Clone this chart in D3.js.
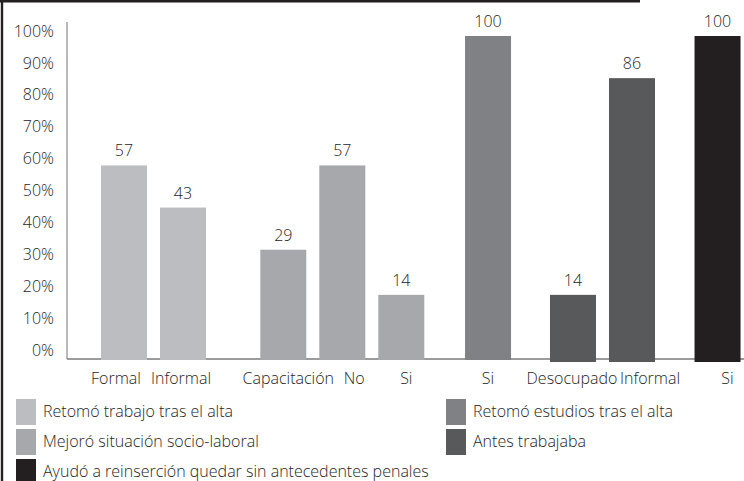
<!DOCTYPE html>
<html>
<head>
<meta charset="utf-8">
<script src="https://cdn.jsdelivr.net/npm/d3@7"></script>
<style>
	body { margin: 0; background: #fff; }
	svg { display: block; font-family: "Open Sans", sans-serif; font-weight: 300; }
	text { fill: #262626; }
</style>
</head>
<body>
<svg width="744" height="481"></svg>
<script>
// data
var categories = ["Formal", "Informal", "Capacitación", "No", "Si", "Si", "Desocupado", "Informal", "Si"];
var values = [57, 43, 29, 57, 14, 100, 14, 86, 100];
var barSeries = [0, 0, 1, 1, 1, 2, 3, 3, 4];
var groupOf = [0, 0, 1, 1, 1, 2, 3, 3, 4];
var seriesNames = [
	"Retomó trabajo tras el alta",
	"Mejoró situación socio-laboral",
	"Retomó estudios tras el alta",
	"Antes trabajaba",
	"Ayudó a reinserción quedar sin antecedentes penales"
];
var yTicks = [0, 10, 20, 30, 40, 50, 60, 70, 80, 90, 100];

// styles / layout
var seriesColors = ["#bcbdc0", "#a7a8ab", "#808184", "#58595b", "#231f20"];
var groupGaps = [0, 0.7, 0.47, 0.44, 0.45];   // extra space before each group, in bar steps
var labelNudge = [-8, -2, 5, 12, 5, 0, -1, 18, 10];
var legendSlots = [[0, 0], [0, 1], [1, 0], [1, 1], [0, 2]]; // [col, row]
var baseline = 359;
var fontSize = "16px";

var svg = d3.select("svg");

// frame lines
svg.append("line").attr("x1", 0).attr("x2", 640).attr("y1", 1.2).attr("y2", 1.2)
	.attr("stroke", "#231f20").attr("stroke-width", 2.6);
svg.append("line").attr("x1", 2).attr("x2", 2).attr("y1", 0).attr("y2", 481)
	.attr("stroke", "#231f20").attr("stroke-width", 2.4);

// slot position of each bar
var slots = [];
var pos = 0, gapSum = 0;
categories.forEach(function (c, i) {
	if (i > 0) {
		pos += 1;
		if (groupOf[i] != groupOf[i - 1]) gapSum += groupGaps[groupOf[i]];
	}
	slots.push(pos + gapSum);
});

var x = d3.scaleLinear().domain([0, 1]).range([101, 160]);
var barW = 46;
var yBar = d3.scaleLinear().domain([0, 100]).range([337, 36]);
var yLab = d3.scaleLinear().domain([0, 100]).range([350, 31]);

// y labels
var yAxis = svg.append("g")
	.attr("transform", "translate(54,0)")
	.call(d3.axisLeft(yLab).tickValues(yTicks).tickSize(0).tickPadding(0)
		.tickFormat(function (d) { return d + "%"; }));
yAxis.select(".domain").remove();
yAxis.selectAll("text").attr("fill", "#262626").style("font-size", fontSize)
	.attr("font-family", "Open Sans").attr("font-weight", 300);

// axis lines
svg.append("line").attr("x1", 67).attr("x2", 67).attr("y1", 22).attr("y2", baseline)
	.attr("stroke", "#8a8a8a").attr("stroke-width", 1.2);
svg.append("line").attr("x1", 67).attr("x2", 744).attr("y1", baseline).attr("y2", baseline)
	.attr("stroke", "#7a7a7a").attr("stroke-width", 1.5);

var bars = categories.map(function (c, i) {
	return { cat: c, v: values[i], s: barSeries[i], slot: slots[i], nudge: labelNudge[i] };
});

svg.selectAll("rect.bar").data(bars).enter().append("rect")
	.attr("class", "bar")
	.attr("x", function (d) { return x(d.slot); })
	.attr("width", barW)
	.attr("y", function (d) { return yBar(d.v); })
	.attr("height", function (d) { return baseline + (d.s >= 3 ? 3 : 1) - yBar(d.v); })
	.attr("fill", function (d) { return seriesColors[d.s]; });

// value labels
svg.selectAll("text.val").data(bars).enter().append("text")
	.attr("class", "val")
	.attr("x", function (d) { return x(d.slot) + barW / 2; })
	.attr("y", function (d) { return yBar(d.v) - 9; })
	.attr("text-anchor", "middle")
	.style("font-size", fontSize)
	.text(function (d) { return d.v; });

// category labels
svg.selectAll("text.cat").data(bars).enter().append("text")
	.attr("class", "cat")
	.attr("x", function (d) { return x(d.slot) + barW / 2 + d.nudge; })
	.attr("y", 384)
	.attr("text-anchor", "middle")
	.style("font-size", fontSize)
	.text(function (d) { return d.cat; });

// legend
var legend = svg.selectAll("g.leg").data(seriesNames).enter().append("g")
	.attr("class", "leg")
	.attr("transform", function (d, i) {
		var s = legendSlots[i];
		return "translate(" + (s[0] ? 446 : 16) + "," + (399 + s[1] * 30) + ")";
	});
legend.append("rect").attr("width", 20).attr("height", 26)
	.attr("fill", function (d, i) { return seriesColors[i]; });
legend.append("text").attr("x", 27).attr("y", 18)
	.style("font-size", fontSize)
	.text(function (d) { return d; });
</script>
</body>
</html>
